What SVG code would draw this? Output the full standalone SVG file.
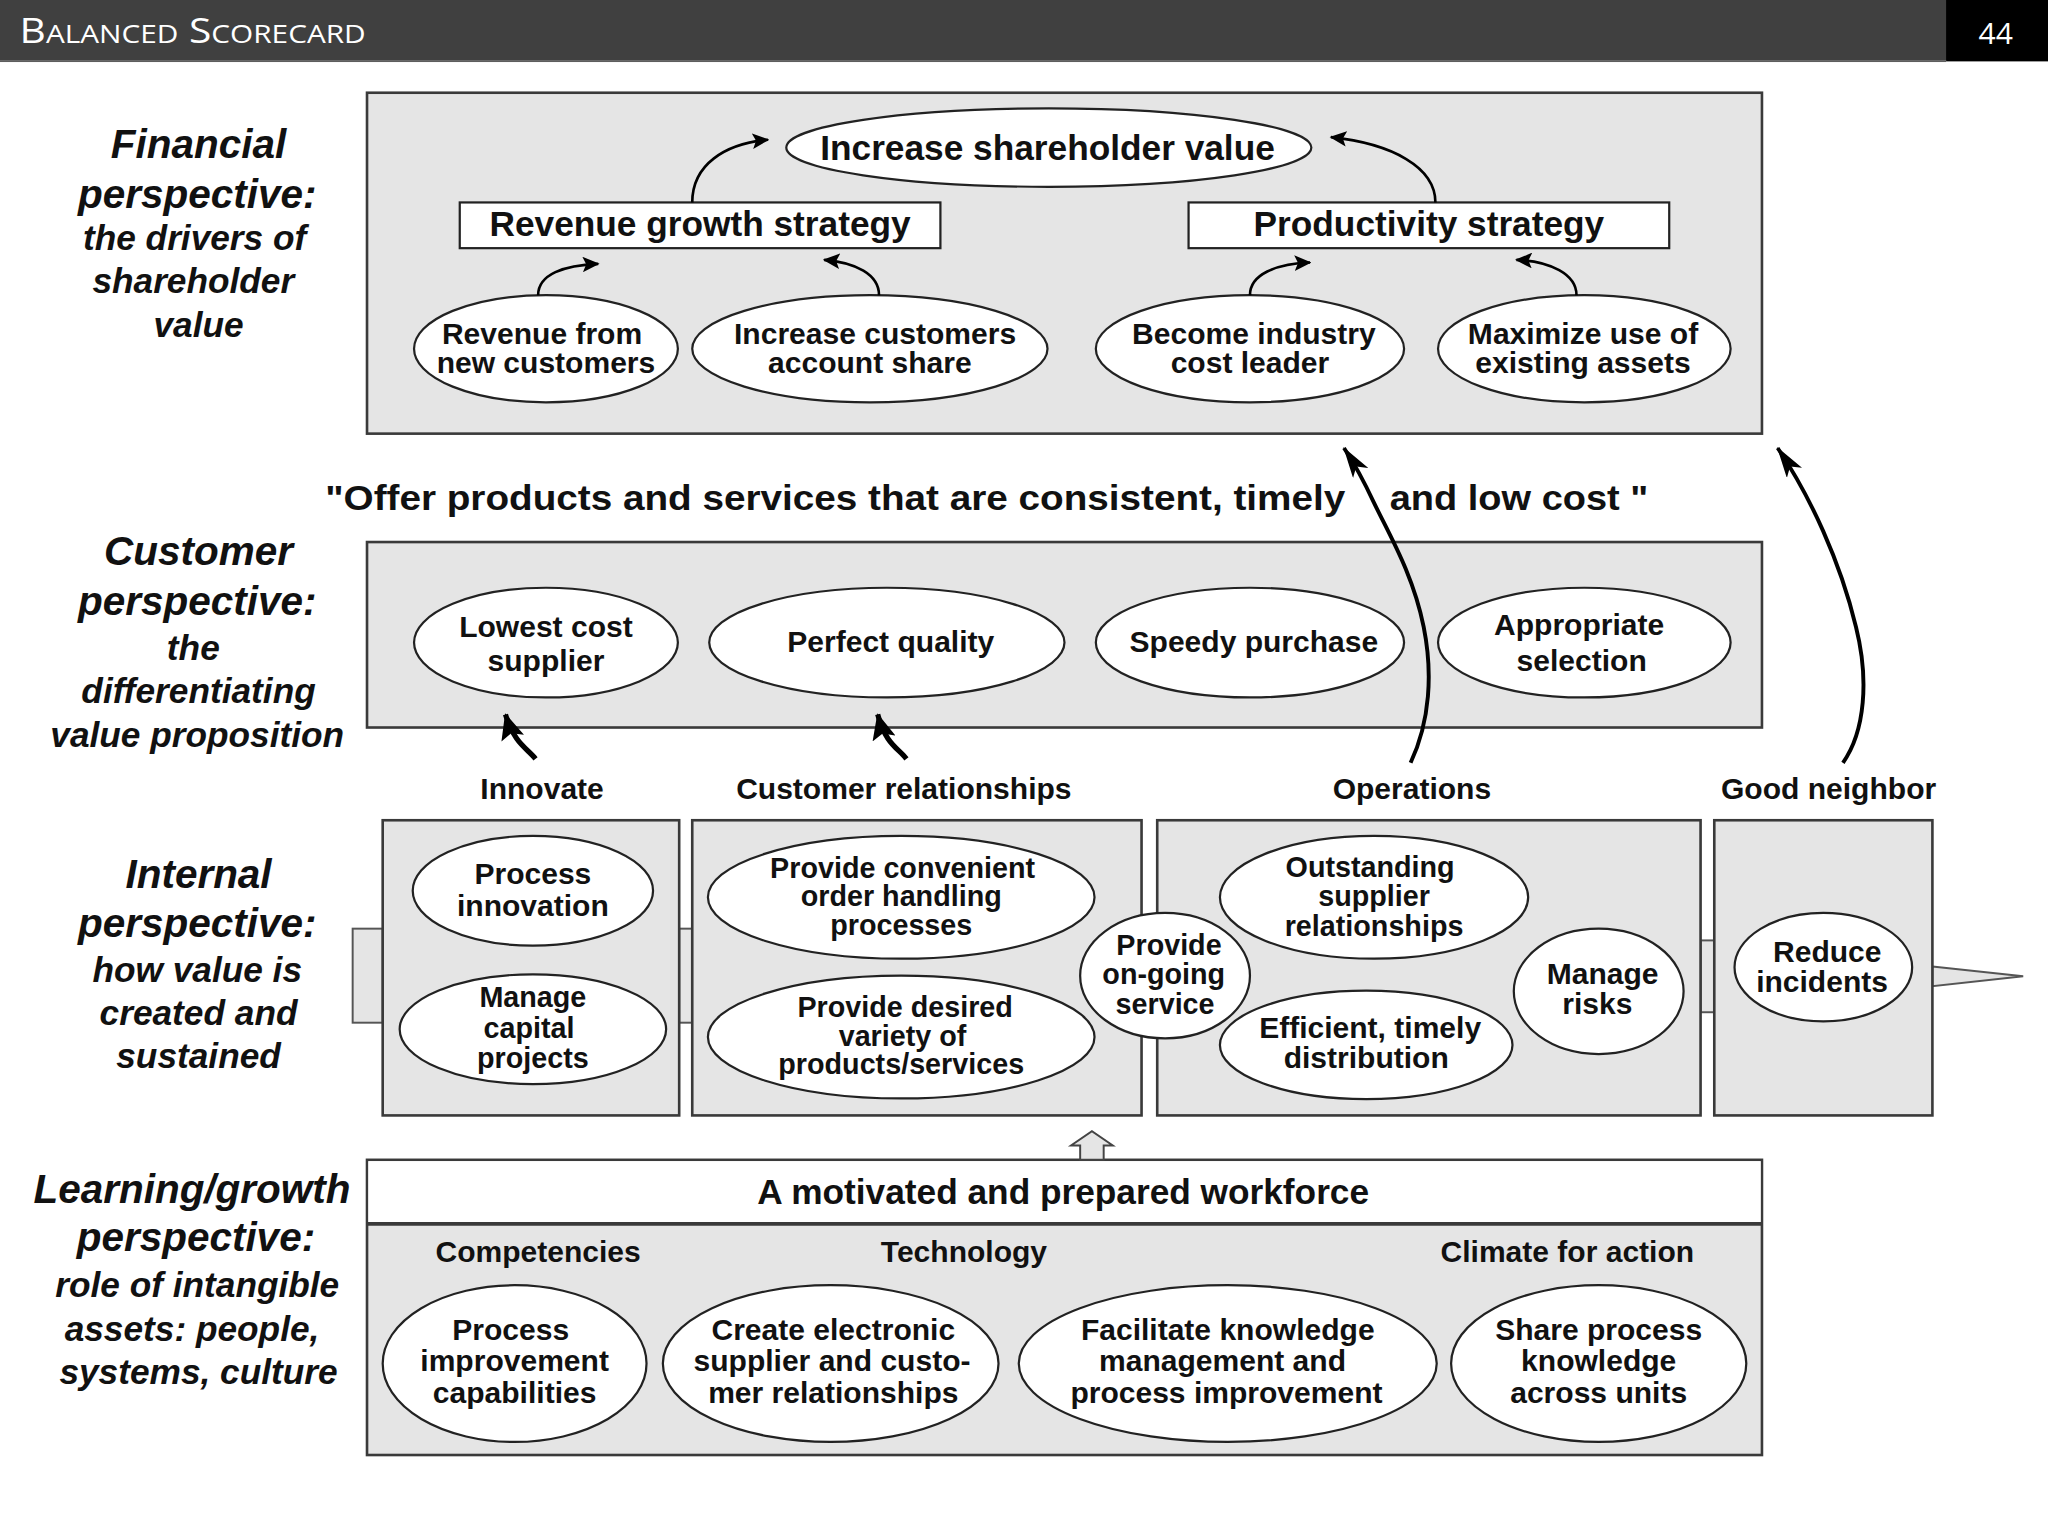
<svg xmlns="http://www.w3.org/2000/svg" width="2048" height="1536" viewBox="0 0 2048 1536">
<defs>
<style>
.box{fill:#e5e5e5;stroke:#3a3a3a;stroke-width:2}
.tab{fill:#e5e5e5;stroke:#555;stroke-width:1.5}
.node{fill:#fff;stroke:#222;stroke-width:1.7}
.t{font-family:"Liberation Sans",Arial,Helvetica,sans-serif;font-weight:bold;font-size:23px;text-anchor:middle;fill:#111}
.s{font-size:22px}
.big{font-size:27px}
.pt{font-family:"Liberation Sans",Arial,Helvetica,sans-serif;font-weight:bold;font-style:italic;font-size:31px;text-anchor:middle;fill:#111}
.ps{font-size:27px}
.conn{fill:none;stroke:#000;stroke-width:2}
.long{fill:none;stroke:#000;stroke-width:3}
.thick{fill:none;stroke:#000;stroke-width:4}
.hdr{font-family:"Open Sans","Liberation Sans",sans-serif;fill:#fff}
</style>
<marker id="ah" markerUnits="userSpaceOnUse" viewBox="0 0 12 11" refX="11" refY="5.5" markerWidth="13" markerHeight="12" orient="auto">
<path d="M0,0 L12,5.5 L0,11 L2.5,5.5 z" fill="#000"/>
</marker>
<marker id="ahL" markerUnits="userSpaceOnUse" viewBox="0 0 24 14" refX="23" refY="7" markerWidth="24" markerHeight="14" orient="auto">
<path d="M0,0 L24,7 L0,14 L6,7 z" fill="#000"/>
</marker>
<marker id="ahT" markerUnits="userSpaceOnUse" viewBox="0 0 20 18" refX="19" refY="9" markerWidth="20" markerHeight="18" orient="auto">
<path d="M0,0 L20,9 L0,18 L4,9 z" fill="#000"/>
</marker>
</defs>
<rect x="0" y="0" width="2048" height="1536" fill="#fff"/>
<g transform="scale(1.306122)">
<g id="header">
<rect x="0" y="0" width="1568" height="46" fill="#404040"/>
<rect x="0" y="46" width="1490" height="1.5" fill="#5e5e5e"/>
<rect x="1490" y="0" width="78" height="47" fill="#000"/>
<text class="hdr" x="15" y="33" font-size="26" textLength="265" lengthAdjust="spacingAndGlyphs"><tspan>B</tspan><tspan font-size="19">ALANCED</tspan><tspan> S</tspan><tspan font-size="19">CORECARD</tspan></text>
<text class="hdr" x="1528" y="34" font-size="23" text-anchor="middle">44</text>
</g>

<g id="labels">
<text class="pt" x="152" y="121">Financial</text>
<text class="pt" x="151" y="159">perspective:</text>
<text class="pt ps" x="149" y="191.5">the drivers of</text>
<text class="pt ps" x="148" y="224.5">shareholder</text>
<text class="pt ps" x="152" y="258">value</text>

<text class="pt" x="152" y="432.5">Customer</text>
<text class="pt" x="151" y="470.5">perspective:</text>
<text class="pt ps" x="148" y="505">the</text>
<text class="pt ps" x="152" y="538">differentiating</text>
<text class="pt ps" x="151" y="572">value proposition</text>

<text class="pt" x="152" y="679.5">Internal</text>
<text class="pt" x="151" y="717.5">perspective:</text>
<text class="pt ps" x="151" y="751.5">how value is</text>
<text class="pt ps" x="152" y="784.5">created and</text>
<text class="pt ps" x="152" y="817.5">sustained</text>

<text class="pt" x="147" y="921">Learning/growth</text>
<text class="pt" x="150" y="958">perspective:</text>
<text class="pt ps" x="151" y="993">role of intangible</text>
<text class="pt ps" x="147" y="1026.5">assets: people,</text>
<text class="pt ps" x="152" y="1060">systems, culture</text>
</g>

<g id="frame-financial"><rect class="box" x="281" y="71" width="1068" height="261"/></g>
<g id="frame-customer"><rect class="box" x="281" y="415" width="1068" height="142"/></g>
<g id="quote">
<text class="t big" x="249" y="390.5" textLength="781" lengthAdjust="spacingAndGlyphs" style="text-anchor:start">"Offer products and services that are consistent, timely</text>
<text class="t big" x="1064" y="390.5" textLength="198" lengthAdjust="spacingAndGlyphs" style="text-anchor:start">and low cost "</text>
</g>

<g id="internal-tabs">
<rect class="tab" x="270" y="711" width="23" height="72"/>
<rect class="tab" x="520" y="711" width="10" height="72"/>
<rect class="tab" x="1302" y="720" width="10.5" height="55"/>
<polygon class="tab" points="1479.5,740 1549,747.5 1479.5,755"/>
</g>
<g id="frame-innovate"><rect class="box" x="293" y="628" width="227" height="226"/><text class="t" x="415" y="612">Innovate</text></g>
<g id="frame-custrel"><rect class="box" x="530" y="628" width="344" height="226"/><text class="t" x="692" y="612">Customer relationships</text></g>
<g id="frame-operations"><rect class="box" x="886" y="628" width="416" height="226"/><text class="t" x="1081" y="612">Operations</text></g>
<g id="frame-goodneighbor"><rect class="box" x="1312.5" y="628" width="167" height="226"/><text class="t" x="1400" y="612">Good neighbor</text></g>

<g id="frame-learning">
<rect class="box" x="281" y="888" width="1068" height="226"/>
<rect x="282" y="889" width="1066" height="48" fill="#fff"/>
<line x1="281" y1="937" x2="1349" y2="937" stroke="#3a3a3a" stroke-width="3"/>
<text class="t big" x="814" y="922">A motivated and prepared workforce</text>
<text class="t" x="412" y="966">Competencies</text>
<text class="t" x="738" y="966">Technology</text>
<text class="t" x="1200" y="966">Climate for action</text>
</g>

<g id="n-shareholder"><ellipse class="node" cx="803" cy="113" rx="201" ry="30"/><text class="t big" x="802" y="122.5">Increase shareholder value</text></g>
<g id="n-revgrowth"><rect class="node" x="352" y="155" width="368" height="35"/><text class="t big" x="536" y="181">Revenue growth strategy</text></g>
<g id="n-productivity"><rect class="node" x="910" y="155" width="368" height="35"/><text class="t big" x="1094" y="181">Productivity strategy</text></g>
<g id="n-revnew"><ellipse class="node" cx="418" cy="267" rx="101" ry="41"/><text class="t" x="415" y="263">Revenue from</text><text class="t" x="418" y="285.5">new customers</text></g>
<g id="n-custshare"><ellipse class="node" cx="666" cy="267" rx="136" ry="41"/><text class="t" x="670" y="263">Increase customers</text><text class="t" x="666" y="285.5">account share</text></g>
<g id="n-costleader"><ellipse class="node" cx="957" cy="267" rx="118" ry="41"/><text class="t" x="960" y="263">Become industry</text><text class="t" x="957" y="285.5">cost leader</text></g>
<g id="n-assets"><ellipse class="node" cx="1213" cy="267" rx="112" ry="41"/><text class="t" x="1212" y="263">Maximize use of</text><text class="t" x="1212" y="285.5">existing assets</text></g>

<g id="n-lowestcost"><ellipse class="node" cx="418" cy="492" rx="101" ry="42"/><text class="t" x="418" y="487.5">Lowest cost</text><text class="t" x="418" y="513.5">supplier</text></g>
<g id="n-quality"><ellipse class="node" cx="679" cy="492" rx="136" ry="42"/><text class="t" x="682" y="499">Perfect quality</text></g>
<g id="n-speedy"><ellipse class="node" cx="957" cy="492" rx="118" ry="42"/><text class="t" x="960" y="499">Speedy purchase</text></g>
<g id="n-selection"><ellipse class="node" cx="1213" cy="492" rx="112" ry="42"/><text class="t" x="1209" y="486">Appropriate</text><text class="t" x="1211" y="513.5">selection</text></g>

<g id="n-procinnov"><ellipse class="node" cx="408" cy="682" rx="92" ry="42"/><text class="t" x="408" y="677">Process</text><text class="t" x="408" y="701">innovation</text></g>
<g id="n-capital"><ellipse class="node" cx="408" cy="788" rx="102" ry="42"/><text class="t s" x="408" y="771">Manage</text><text class="t s" x="405" y="794.5">capital</text><text class="t s" x="408" y="818">projects</text></g>
<g id="n-orderhandling"><ellipse class="node" cx="690" cy="687" rx="148" ry="47"/><text class="t s" x="691" y="672">Provide convenient</text><text class="t s" x="690" y="694">order handling</text><text class="t s" x="690" y="716">processes</text></g>
<g id="n-variety"><ellipse class="node" cx="690" cy="794" rx="148" ry="47"/><text class="t s" x="693" y="778.5">Provide desired</text><text class="t s" x="691" y="800.5">variety of</text><text class="t s" x="690" y="822.5">products/services</text></g>
<g id="n-ongoing"><ellipse class="node" cx="892" cy="747" rx="65" ry="48"/><text class="t s" x="895" y="731">Provide</text><text class="t s" x="891" y="753">on-going</text><text class="t s" x="892" y="776">service</text></g>
<g id="n-supplier"><ellipse class="node" cx="1052" cy="687" rx="118" ry="47"/><text class="t s" x="1049" y="671.5">Outstanding</text><text class="t s" x="1052" y="694">supplier</text><text class="t s" x="1052" y="716.5">relationships</text></g>
<g id="n-distribution"><ellipse class="node" cx="1046" cy="800" rx="112" ry="41.5"/><text class="t" x="1049" y="795">Efficient, timely</text><text class="t" x="1046" y="817.5">distribution</text></g>
<g id="n-risks"><ellipse class="node" cx="1224" cy="759" rx="65" ry="48"/><text class="t" x="1227" y="753">Manage</text><text class="t" x="1223" y="776">risks</text></g>
<g id="n-incidents"><ellipse class="node" cx="1396" cy="740.5" rx="68" ry="41.5"/><text class="t" x="1399" y="736.5">Reduce</text><text class="t" x="1395" y="759.5">incidents</text></g>

<g id="n-procimprove"><ellipse class="node" cx="394" cy="1044" rx="101" ry="60"/><text class="t" x="391" y="1026">Process</text><text class="t" x="394" y="1050">improvement</text><text class="t" x="394" y="1074.5">capabilities</text></g>
<g id="n-electronic"><ellipse class="node" cx="636" cy="1044" rx="128.5" ry="60"/><text class="t" x="638" y="1026">Create electronic</text><text class="t" x="637" y="1050">supplier and custo-</text><text class="t" x="638" y="1074.5">mer relationships</text></g>
<g id="n-knowledge"><ellipse class="node" cx="940" cy="1044" rx="160" ry="60"/><text class="t" x="940" y="1026">Facilitate knowledge</text><text class="t" x="936" y="1050">management and</text><text class="t" x="939" y="1074.5">process improvement</text></g>
<g id="n-share"><ellipse class="node" cx="1224" cy="1044" rx="113" ry="60"/><text class="t" x="1224" y="1026">Share process</text><text class="t" x="1224" y="1050">knowledge</text><text class="t" x="1224" y="1074.5">across units</text></g>

<g id="connectors">
<path class="conn" d="M530,155 C530,126 555,110 588,107" marker-end="url(#ah)"/>
<path class="conn" d="M1099,155 C1099,128 1066,110 1019,105" marker-end="url(#ah)"/>
<path class="conn" d="M412,226 C412,210 432,203 458,202" marker-end="url(#ah)"/>
<path class="conn" d="M673,226 C673,210 655,201 631,199" marker-end="url(#ah)"/>
<path class="conn" d="M957,226 C957,210 977,202 1003,201" marker-end="url(#ah)"/>
<path class="conn" d="M1207,226 C1207,210 1187,200 1161,199" marker-end="url(#ah)"/>
<path class="long" d="M1080,584 C1095,552 1097,515 1090,480 C1082,440 1064,410 1052,385 C1045,370 1037,355 1029,343" marker-end="url(#ahL)"/>
<path class="long" d="M1411,584 C1428,560 1431,520 1421,480 C1409,430 1386,380 1361,343" marker-end="url(#ahL)"/>
<path class="thick" d="M410,581 C404,573 394,570 387,547" marker-end="url(#ahT)"/>
<path class="thick" d="M694,581 C688,573 678,570 672,547" marker-end="url(#ahT)"/>
<polygon points="827,888 827,877 820,877 836,866 852,877 845,877 845,888" fill="#e5e5e5" stroke="#444" stroke-width="1.5"/>
</g>
</g>
</svg>
